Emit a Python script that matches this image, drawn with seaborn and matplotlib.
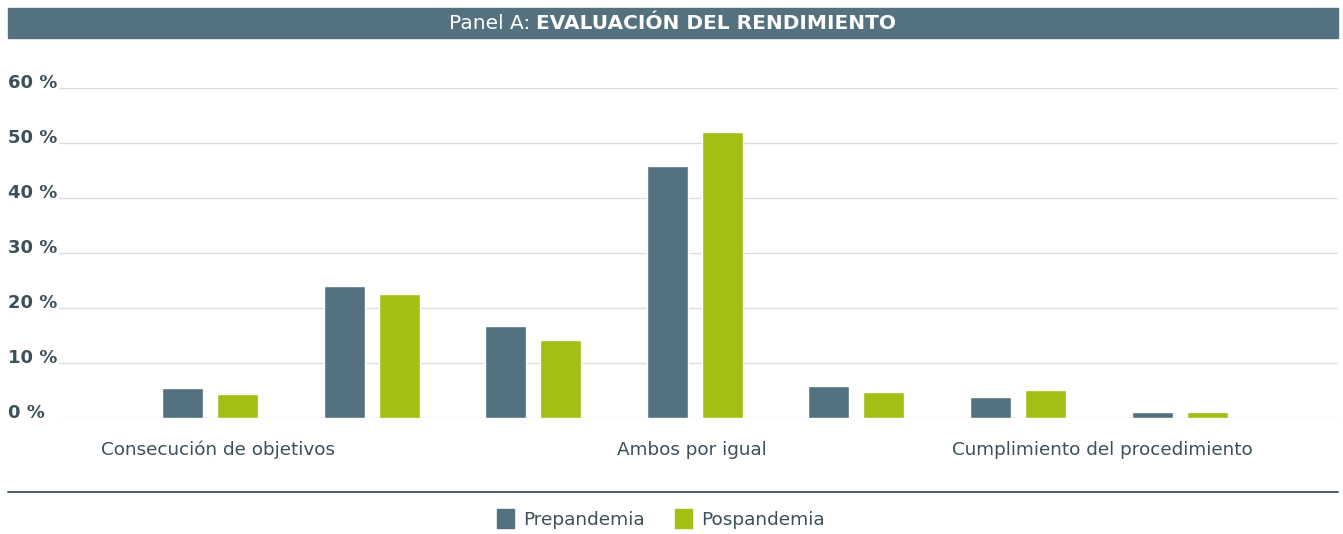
import matplotlib
matplotlib.use("Agg")
import matplotlib.pyplot as plt
from matplotlib.patches import Rectangle, Patch
from matplotlib.lines import Line2D
from matplotlib.transforms import ScaledTranslation
import seaborn as sns
import pandas as pd

# data (7-point scale, % of respondents)
escala = ["1", "2", "3", "4", "5", "6", "7"]
prepandemia = [5.5, 24.0, 16.8, 45.9, 5.9, 3.9, 1.2]
pospandemia = [4.4, 22.6, 14.2, 52.1, 4.7, 5.2, 1.2]
series = ["Prepandemia", "Pospandemia"]
ytick_vals = [0, 10, 20, 30, 40, 50, 60]
xlabel_pos = [0.05, 2.98, 5.52]
xlabel_txt = ["Consecución de objetivos", "Ambos por igual", "Cumplimiento del procedimiento"]

C_PRE = "#53717E"
C_POS = "#A4BE13"
C_TXT = "#3D4F58"
C_GRID = "#D9DEE1"

df = pd.DataFrame({
    "escala": escala * 2,
    "periodo": [series[0]] * len(escala) + [series[1]] * len(escala),
    "valor": prepandemia + pospandemia,
})

sns.set_theme(style="white")
plt.rcParams["font.family"] = ["DejaVu Sans"]

fig = plt.figure(figsize=(13.43, 5.34), dpi=100)
ax = fig.add_axes([59 / 1343, 1 - 418.3 / 534, (1338 - 59) / 1343, 330 / 534])

sns.barplot(data=df, x="escala", y="valor", hue="periodo", order=escala,
            hue_order=series, palette={series[0]: C_PRE, series[1]: C_POS},
            width=0.68, gap=0.254, saturation=1, legend=False, ax=ax)

ax.set_xlim(-0.934, 6.98)
ax.set_ylim(0, 60)
ax.set_axisbelow(True)
ax.yaxis.grid(True, color=C_GRID, linewidth=1.0)
ax.xaxis.grid(False)
for s in ax.spines.values():
    s.set_visible(False)
ax.set_xlabel("")
ax.set_ylabel("")

ax.set_yticks(ytick_vals)
ax.set_yticklabels([f"{v} %" for v in ytick_vals], fontsize=13, fontweight="bold", color=C_TXT)
ax.tick_params(axis="y", length=0, pad=37)
for lab in ax.get_yticklabels():
    lab.set_horizontalalignment("left")
    lab.set_transform(lab.get_transform() + ScaledTranslation(0, 0.07, fig.dpi_scale_trans))

ax.set_xticks(xlabel_pos)
ax.set_xticklabels(xlabel_txt, fontsize=13.2, color=C_TXT)
ax.tick_params(axis="x", length=0, pad=16)

# header band
fig.patches.append(Rectangle((8 / 1343, 1 - 38 / 534), 1330 / 1343, 30 / 534,
                             transform=fig.transFigure, color=C_PRE, zorder=0))
fig.text(530 / 1343, 1 - 23.5 / 534, "Panel A:", ha="right", va="center",
         color="white", fontsize=14.5)
fig.text(536 / 1343, 1 - 23.5 / 534, "EVALUACIÓN DEL RENDIMIENTO", ha="left", va="center",
         color="white", fontsize=14.5, fontweight="bold")

# separator line
fig.add_artist(Line2D([8 / 1343, 1338 / 1343], [1 - 492 / 534] * 2,
                      transform=fig.transFigure, color=C_TXT, linewidth=1.3))

handles = [Patch(color=C_PRE), Patch(color=C_POS)]
fig.legend(handles, series, loc="center", bbox_to_anchor=(661 / 1343, 1 - 519 / 534),
           ncol=2, frameon=False, fontsize=13.3, handlelength=0.95, handleheight=1.15,
           handletextpad=0.5, columnspacing=1.6, labelcolor=C_TXT)

fig.savefig("out.png", dpi=100)
